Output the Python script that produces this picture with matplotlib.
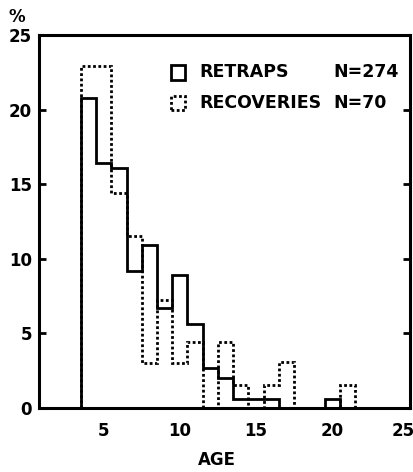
import numpy as np
import matplotlib
matplotlib.use('Agg')
import matplotlib.pyplot as plt
import matplotlib.transforms as mtransforms
from matplotlib.patches import Rectangle

plt.rcParams['font.family'] = ['DejaVu Sans']
plt.rcParams['font.weight'] = 'bold'

# percent of birds per age class (age 4 onwards)
retrap_ages = list(range(4, 21))
retraps = [20.8, 16.4, 16.1, 9.2, 10.9, 6.7, 8.9, 5.6, 2.7, 2.0, 0.6, 0.6, 0.6, 0, 0, 0, 0.6]

recovery_ages = list(range(4, 22))
recoveries = [22.9, 22.9, 14.4, 11.5, 3.0, 7.2, 3.0, 4.4, 0, 4.4, 1.5, 0, 1.5, 3.1, 0, 0, 0, 1.5]

legend_names = ['RETRAPS', 'RECOVERIES']
legend_n = ['N=274', 'N=70']

x_ticks = [5, 10, 15, 20, 25]
y_ticks = [0, 5, 10, 15, 20, 25]

fig = plt.figure(figsize=(4.14, 4.72), dpi=100)
ax = fig.add_axes([0.094, 0.136, 0.896, 0.790])

edges_r = np.append(np.array(retrap_ages) - 0.5, retrap_ages[-1] + 0.5)
edges_c = np.append(np.array(recovery_ages) - 0.5, recovery_ages[-1] + 0.5)

ax.stairs(recoveries, edges_c, baseline=0, color='black', lw=2.0,
          linestyle=(0, (1, 0.9)))
ax.stairs(retraps, edges_r, baseline=0, color='black', lw=2.0)

ax.set_xlim(0.75, 25.1)
ax.set_ylim(0, 25)
ax.set_xticks(x_ticks)
ax.set_yticks(y_ticks)
ax.tick_params(axis='x', length=0, pad=10, labelsize=12)
ax.tick_params(axis='y', direction='in', length=5, width=2, pad=5,
               labelsize=12, right=True)
for s in ax.spines.values():
    s.set_linewidth(2.2)

# last x label is pulled in so it stays inside the figure
shift = mtransforms.ScaledTranslation(-4 / 72, 0, fig.dpi_scale_trans)
last = ax.get_xticklabels()[-1]
last.set_transform(last.get_transform() + shift)

# legend drawn by hand
ax.add_patch(Rectangle((0.355, 0.880), 0.039, 0.040, transform=ax.transAxes,
                       fill=False, lw=2.0, ec='black'))
ax.add_patch(Rectangle((0.355, 0.800), 0.039, 0.035, transform=ax.transAxes,
                       fill=False, lw=2.0, ec='black', linestyle=(0, (1, 0.9))))
for i, (name, n) in enumerate(zip(legend_names, legend_n)):
    yy = 0.901 - i * 0.083
    ax.text(0.432, yy, name, transform=ax.transAxes, fontsize=12.5,
            va='center', ha='left')
    ax.text(0.795, yy, n, transform=ax.transAxes, fontsize=12.5,
            va='center', ha='left')

fig.text(0.041, 0.964, '%', fontsize=12, ha='center', va='center')
fig.text(0.524, 0.025, 'AGE', fontsize=12, ha='center', va='center')

fig.savefig('out.png', dpi=100)
